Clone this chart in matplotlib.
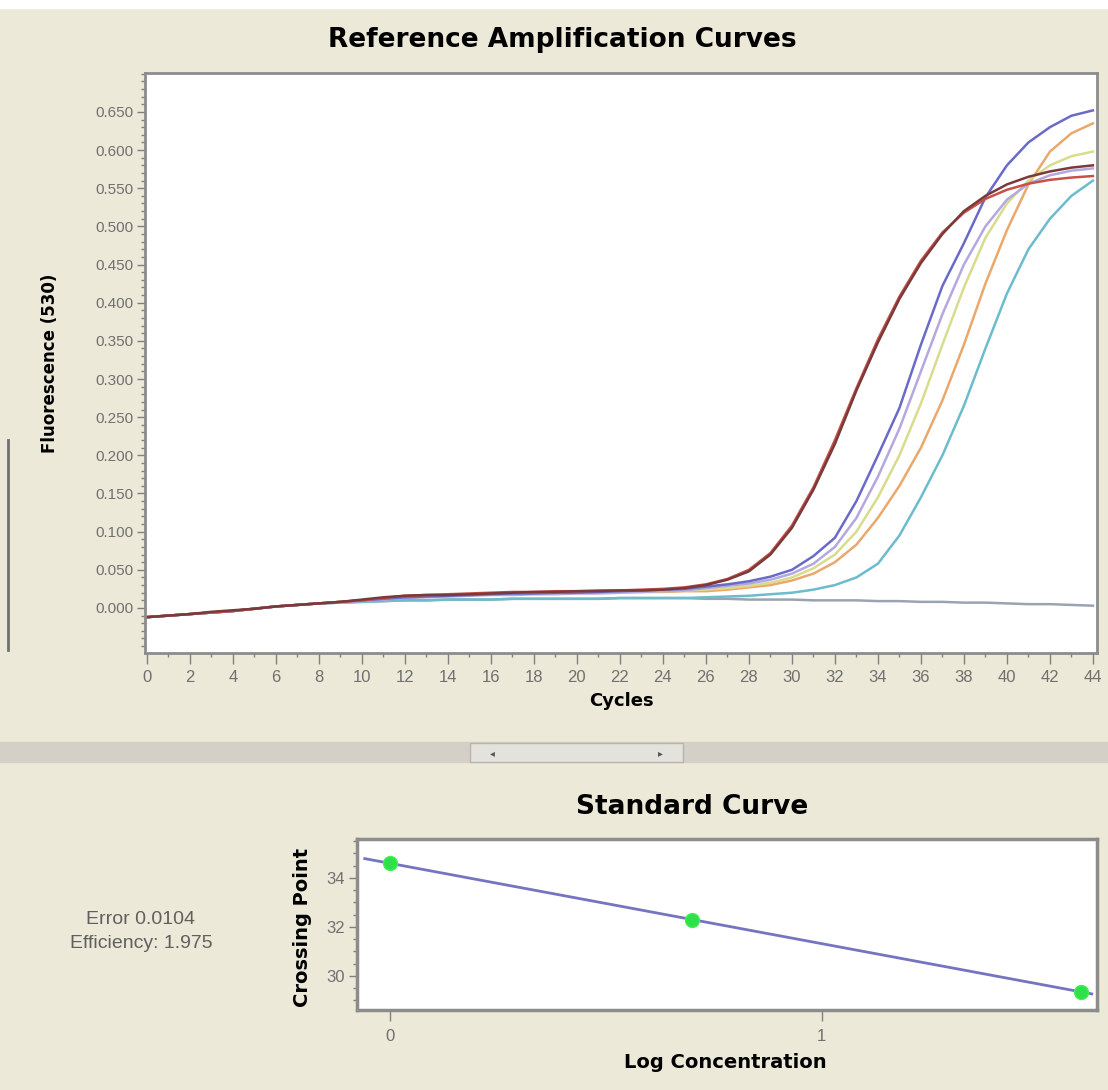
import numpy as np
import matplotlib.pyplot as plt
from matplotlib.patches import Rectangle
from matplotlib.ticker import MultipleLocator

# amplification curves, fluorescence (530) per cycle 0..44
cycles = list(range(45))
red = [-0.012, -0.010, -0.008, -0.006, -0.004, -0.001, 0.002, 0.004, 0.006, 0.008,
       0.010, 0.013, 0.016, 0.017, 0.018, 0.019, 0.020, 0.021, 0.021, 0.022,
       0.022, 0.023, 0.023, 0.024, 0.025, 0.027, 0.031, 0.038, 0.050, 0.072,
       0.108, 0.158, 0.220, 0.288, 0.352, 0.408, 0.455, 0.492, 0.518, 0.536,
       0.548, 0.556, 0.561, 0.564, 0.566]
maroon = [-0.012, -0.010, -0.008, -0.005, -0.003, -0.001, 0.002, 0.004, 0.006, 0.008,
          0.011, 0.014, 0.016, 0.017, 0.017, 0.018, 0.019, 0.020, 0.021, 0.021,
          0.022, 0.022, 0.023, 0.023, 0.024, 0.026, 0.030, 0.037, 0.048, 0.070,
          0.105, 0.155, 0.215, 0.285, 0.348, 0.405, 0.452, 0.490, 0.520, 0.540,
          0.555, 0.565, 0.572, 0.577, 0.580]
purple = [-0.012, -0.010, -0.008, -0.006, -0.004, -0.001, 0.002, 0.004, 0.006, 0.008,
          0.010, 0.012, 0.014, 0.015, 0.016, 0.017, 0.018, 0.019, 0.019, 0.020,
          0.020, 0.021, 0.022, 0.023, 0.024, 0.025, 0.028, 0.031, 0.035, 0.041,
          0.050, 0.068, 0.092, 0.140, 0.200, 0.262, 0.345, 0.422, 0.478, 0.538,
          0.580, 0.610, 0.630, 0.645, 0.652]
lavender = [-0.012, -0.010, -0.008, -0.006, -0.004, -0.001, 0.002, 0.004, 0.006, 0.007,
            0.009, 0.011, 0.013, 0.014, 0.015, 0.016, 0.017, 0.017, 0.018, 0.018,
            0.019, 0.019, 0.020, 0.021, 0.022, 0.023, 0.026, 0.029, 0.032, 0.037,
            0.045, 0.058, 0.080, 0.118, 0.172, 0.235, 0.310, 0.385, 0.450, 0.500,
            0.535, 0.556, 0.567, 0.573, 0.576]
yellowgreen = [-0.012, -0.010, -0.008, -0.006, -0.004, -0.001, 0.002, 0.004, 0.006, 0.008,
               0.010, 0.012, 0.014, 0.015, 0.016, 0.017, 0.018, 0.018, 0.019, 0.019,
               0.020, 0.020, 0.021, 0.021, 0.022, 0.023, 0.024, 0.026, 0.029, 0.033,
               0.040, 0.052, 0.070, 0.100, 0.145, 0.200, 0.268, 0.345, 0.420, 0.485,
               0.530, 0.560, 0.580, 0.592, 0.598]
orange = [-0.012, -0.010, -0.008, -0.006, -0.004, -0.001, 0.002, 0.004, 0.006, 0.008,
          0.010, 0.012, 0.014, 0.015, 0.016, 0.017, 0.018, 0.018, 0.019, 0.019,
          0.020, 0.020, 0.021, 0.021, 0.021, 0.022, 0.022, 0.024, 0.027, 0.030,
          0.036, 0.045, 0.060, 0.083, 0.118, 0.160, 0.210, 0.272, 0.345, 0.425,
          0.495, 0.555, 0.598, 0.622, 0.635]
cyan = [-0.012, -0.010, -0.008, -0.006, -0.004, -0.001, 0.002, 0.004, 0.006, 0.007,
        0.008, 0.009, 0.010, 0.010, 0.011, 0.011, 0.011, 0.012, 0.012, 0.012,
        0.012, 0.012, 0.013, 0.013, 0.013, 0.013, 0.014, 0.015, 0.016, 0.018,
        0.020, 0.024, 0.030, 0.040, 0.058, 0.095, 0.145, 0.200, 0.265, 0.340,
        0.412, 0.470, 0.510, 0.540, 0.560]
negative = [-0.012, -0.010, -0.008, -0.006, -0.004, -0.001, 0.002, 0.004, 0.006, 0.007,
            0.008, 0.009, 0.010, 0.010, 0.011, 0.011, 0.011, 0.012, 0.012, 0.012,
            0.012, 0.012, 0.013, 0.013, 0.013, 0.013, 0.012, 0.012, 0.011, 0.011,
            0.011, 0.010, 0.010, 0.010, 0.009, 0.009, 0.008, 0.008, 0.007, 0.007,
            0.006, 0.005, 0.005, 0.004, 0.003]

curves = [negative, cyan, orange, yellowgreen, lavender, purple, red, maroon]
colors = ['#9aa4b0', '#6cbccc', '#eaa86c', '#d8dc8c', '#b4a8e0', '#6a6ac8', '#c8504a', '#7a3a3a']

# standard curve
log_conc = [0.0, 0.70, 1.60]
crossing = [34.6, 32.3, 29.35]
error_txt = 'Error 0.0104'
eff_txt = 'Efficiency: 1.975'

W, H = 1108, 1090
bg = '#ECE9D8'
fig = plt.figure(figsize=(W / 100, H / 100), dpi=100, facecolor=bg)

def fx(px):
    return px / W

def fy(py):
    return 1 - py / H

# window chrome bits
fig.patches.append(Rectangle((0, fy(8)), 1, 8 / H, transform=fig.transFigure, color='white', zorder=0))
fig.patches.append(Rectangle((0, fy(762)), 1, 20 / H, transform=fig.transFigure, color='#d4d0c8', zorder=0))
fig.patches.append(Rectangle((fx(470), fy(762)), 213 / W, 19 / H, transform=fig.transFigure,
                             facecolor='#e4e2dc', edgecolor='#b8b4ac', lw=1, zorder=1))
fig.text(fx(492), fy(753), '\u25c2', fontsize=7, color='#555555', ha='center', va='center')
fig.text(fx(660), fy(753), '\u25b8', fontsize=7, color='#555555', ha='center', va='center')
fig.lines.append(plt.Line2D([fx(8), fx(8)], [fy(440), fy(650)], transform=fig.transFigure,
                            color='#707070', lw=2))

reg_font = 'Liberation Sans'

# --- amplification plot ---
ax = fig.add_axes([fx(145), fy(653), (1097 - 145) / W, (653 - 73) / H])
for vals, col in zip(curves, colors):
    ax.plot(cycles, vals, color=col, lw=1.8)
ax.set_xlim(-0.09, 44.19)
ax.set_ylim(-0.059, 0.701)
ax.set_xticks(range(0, 45, 2))
ax.xaxis.set_minor_locator(MultipleLocator(1))
ax.set_yticks(np.arange(0, 0.651, 0.05))
ax.yaxis.set_minor_locator(MultipleLocator(0.01))
ax.set_yticklabels([f'{v:.3f}' for v in np.arange(0, 0.651, 0.05)])
ax.tick_params(axis='x', which='major', length=8, width=1, pad=4, labelsize=12,
               labelcolor='#707070', color='#808080')
ax.tick_params(axis='y', which='major', length=6, width=1, pad=2, labelsize=11,
               labelcolor='#707070', color='#808080')
ax.tick_params(which='minor', length=3, width=1, color='#808080')
for lab in ax.get_xticklabels() + ax.get_yticklabels():
    lab.set_family(reg_font)
for s in ax.spines.values():
    s.set_color('#8c8c8c')
    s.set_linewidth(2)
ax.set_xlabel('Cycles', fontsize=13, fontweight='bold', labelpad=5)
fig.text(fx(50), fy(363), 'Fluorescence (530)', rotation=90, fontsize=12, fontweight='bold',
         ha='center', va='center')
fig.text(fx(562), fy(40), 'Reference Amplification Curves', fontsize=19, fontweight='bold',
         ha='center', va='center')

# --- standard curve ---
ax2 = fig.add_axes([fx(357), fy(1010), (1097 - 357) / W, (1010 - 839) / H])
k, b = np.polyfit(log_conc, crossing, 1)
xl = np.array([-0.058, 1.625])
ax2.plot(xl, k * xl + b, color='#7474c0', lw=2)
ax2.plot(log_conc, crossing, 'o', color='#2ee04a', ms=10, mec='#44ee55')
ax2.set_xlim(-0.076, 1.637)
ax2.set_ylim(28.61, 35.59)
ax2.set_xticks([0, 1])
ax2.set_yticks([30, 32, 34])
ax2.yaxis.set_minor_locator(MultipleLocator(0.5))
ax2.tick_params(axis='x', which='major', length=8, width=1, pad=6, labelsize=12,
                labelcolor='#707070', color='#808080')
ax2.tick_params(axis='y', which='major', length=6, width=1, pad=3, labelsize=12,
                labelcolor='#707070', color='#808080')
ax2.tick_params(which='minor', length=3, width=1, color='#808080')
for lab in ax2.get_xticklabels() + ax2.get_yticklabels():
    lab.set_family(reg_font)
for s in ax2.spines.values():
    s.set_color('#8c8c8c')
    s.set_linewidth(2.5)
fig.text(fx(725), fy(1063), 'Log Concentration', fontsize=14, fontweight='bold', ha='center', va='center')
fig.text(fx(302), fy(927), 'Crossing Point', rotation=90, fontsize=14, fontweight='bold',
         ha='center', va='center')
fig.text(fx(692), fy(807), 'Standard Curve', fontsize=19, fontweight='bold', ha='center', va='center')
fig.text(fx(141), fy(920), error_txt, fontsize=14, color='#606060', family=reg_font, ha='center', va='center')
fig.text(fx(141), fy(944), eff_txt, fontsize=14, color='#606060', family=reg_font, ha='center', va='center')

fig.savefig('out.png', dpi=100, facecolor=bg)
